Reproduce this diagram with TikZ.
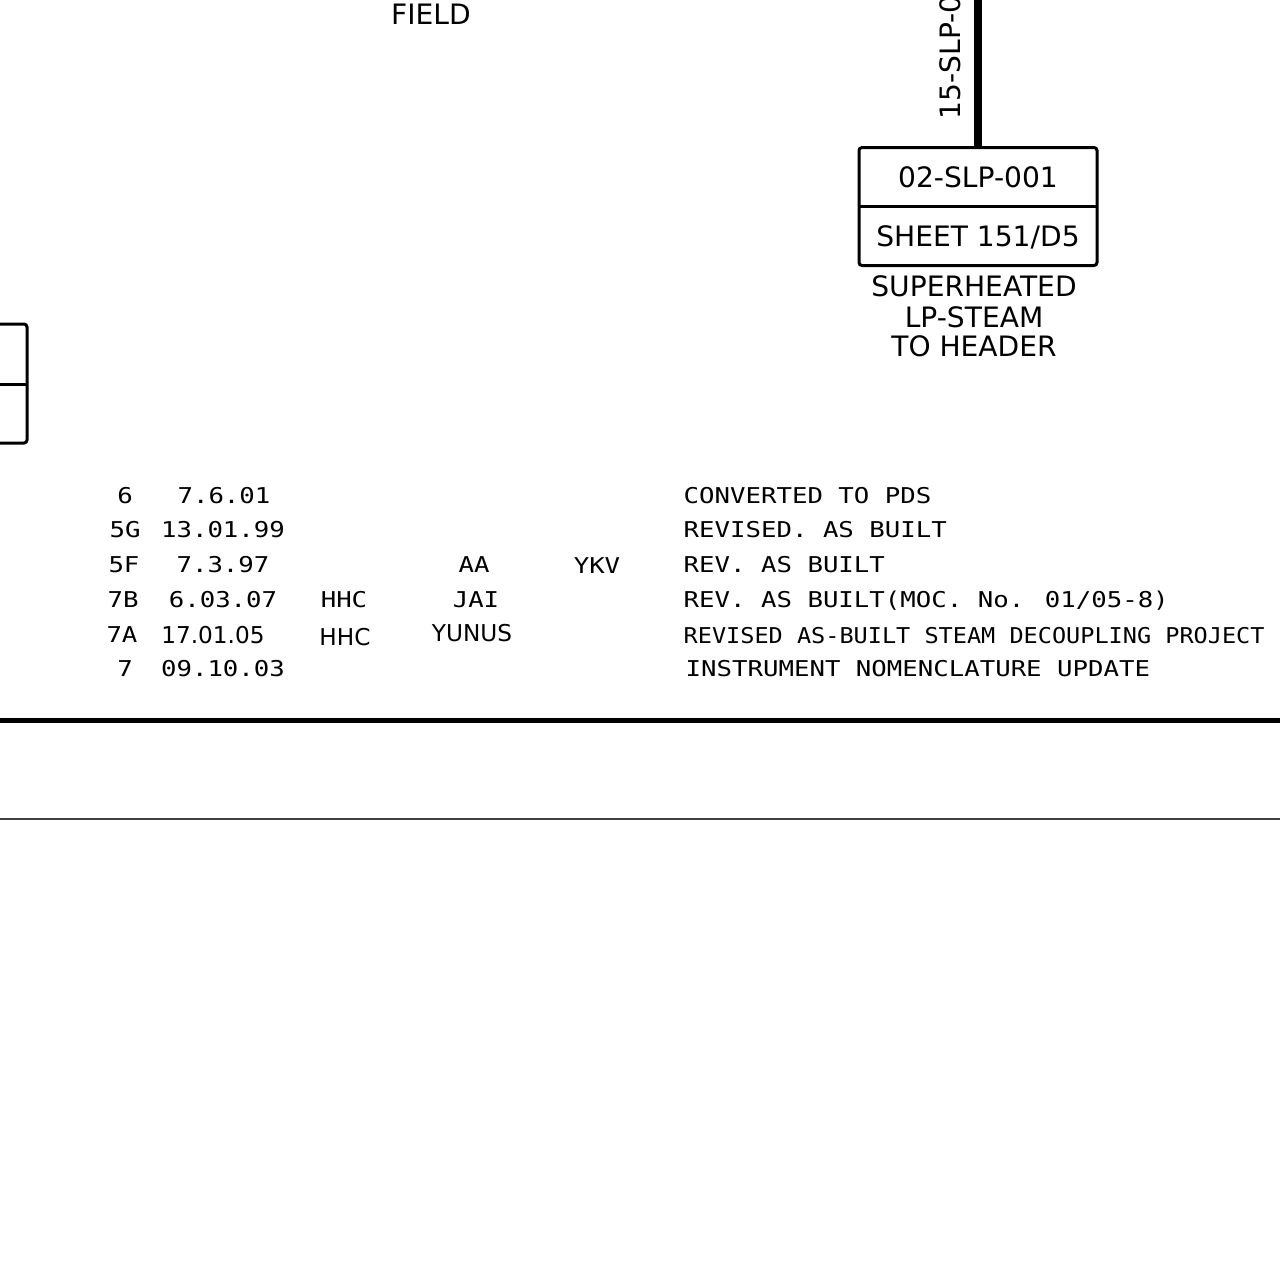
\documentclass[tikz,border=0pt]{standalone}
\usepackage{fontspec}
\newfontfamily\tagfont{DejaVu Sans}
\newfontfamily\revfont[FakeStretch=1.18]{DejaVu Sans Mono}
\newfontfamily\revnarrowfont[FakeStretch=1.08]{DejaVu Sans Mono}
\usetikzlibrary{positioning}
\tikzset{
	tagtext/.style={font=\tagfont\fontsize{8}{9.5}\selectfont, inner sep=0pt, text height=5.8pt, text depth=0pt},
	revtext/.style={font=\revfont\fontsize{6.2}{7}\selectfont, inner sep=0pt, text height=4.5pt, text depth=0pt},
	revhand/.style={tagtext, font=\tagfont\fontsize{6.6}{8}\selectfont, text height=4.8pt},
	tagcell/.style={minimum width=23.8mm, minimum height=5.9mm, outer sep=0pt, tagtext}
}
\begin{document}
\begin{tikzpicture}[x=0.1mm, y=-0.1mm]
			%%%%% START %%%%%
			
			\useasboundingbox (0, 0) rectangle (1280, 1280);
			\clip (0, 0) rectangle (1280, 1280);
			\fill[white] (0, 0) rectangle (1280, 1280);
			
			\node[tagtext] (fieldlbl) at (431, 14) {FIELD};
			
			% line tag box
			\node[tagcell] (linecell) at (978, 177) {02-SLP-001};
			\node[tagcell, below=0pt of linecell] (sheetcell) {SHEET 151/D5};
			\draw[line width=0.3mm, rounded corners=0.3mm] (linecell.north west) rectangle (sheetcell.south east);
			\draw[line width=0.3mm] (linecell.south west) -- (linecell.south east);
			\coordinate (linetop) at (978, 0);
			\draw[line width=0.8mm] (linetop) -- (linecell.north);
			\node[tagtext, rotate=90, anchor=west] (linelbl) at (950, 120) {15-SLP-0};
			
			\node[tagtext] (dest1) at (974, 286) {SUPERHEATED};
			\node[tagtext, below=3.1mm of dest1.center, anchor=center] (dest2) {LP-STEAM};
			\node[tagtext, below=2.9mm of dest2.center, anchor=center] (dest3) {TO HEADER};
			
			% box cut at left edge
			\draw[line width=0.3mm, rounded corners=0.3mm] (-10, 324) -| (27, 443) -- (-10, 443);
			\draw[line width=0.3mm] (0, 384) -- (27, 384);
			
			% revision block
			\node[revtext] (rev1) at (125, 496) {6};
			\node[revtext] (date1) at (224, 496) {7.6.01};
			\node[revtext, anchor=west] (desc1) at (683, 496) {CONVERTED TO PDS};
			
			\node[revtext] (rev2) at (125, 530) {5G};
			\node[revtext] (date2) at (223, 530) {13.01.99};
			\node[revtext, anchor=west] (desc2) at (683, 530) {REVISED. AS BUILT};
			
			\node[revtext] (rev3) at (124, 565) {5F};
			\node[revtext] (date3) at (223, 565) {7.3.97};
			\node[revtext] (chk3) at (474, 565) {AA};
			\node[revtext] (app3) at (597, 566) {YKV};
			\node[revtext, anchor=west] (desc3) at (683, 565) {REV. AS BUILT};
			
			\node[revtext] (rev4) at (123, 600) {7B};
			\node[revtext] (date4) at (223, 600) {6.03.07};
			\node[revtext] (drn4) at (344, 600) {HHC};
			\node[revtext] (chk4) at (476, 600) {JAI};
			\node[revtext, anchor=west] (desc4) at (683, 600) {REV. AS BUILT(MOC. No. 01/05-8)};
			
			\node[revtext] (rev5) at (122, 635) {7A};
			\node[revhand] (date5) at (213, 635) {17.01.05};
			\node[revhand] (drn5) at (345, 637) {HHC};
			\node[revhand] (chk5) at (472, 633) {YUNUS};
			\node[revtext, font=\revnarrowfont\fontsize{6.2}{7}\selectfont, anchor=west] (desc5) at (683, 636) {REVISED AS-BUILT STEAM DECOUPLING PROJECT};
			
			\node[revtext] (rev6) at (125, 669) {7};
			\node[revtext] (date6) at (223, 669) {09.10.03};
			\node[revtext, anchor=west] (desc6) at (685, 669) {INSTRUMENT NOMENCLATURE UPDATE};
			
			\draw[line width=0.5mm] (0, 720) -- (1280, 720);
			\draw[line width=0.15mm, color=black!75] (0, 819) -- (1280, 819);
			
			%%%%% END %%%%%
		\end{tikzpicture}
\end{document}
